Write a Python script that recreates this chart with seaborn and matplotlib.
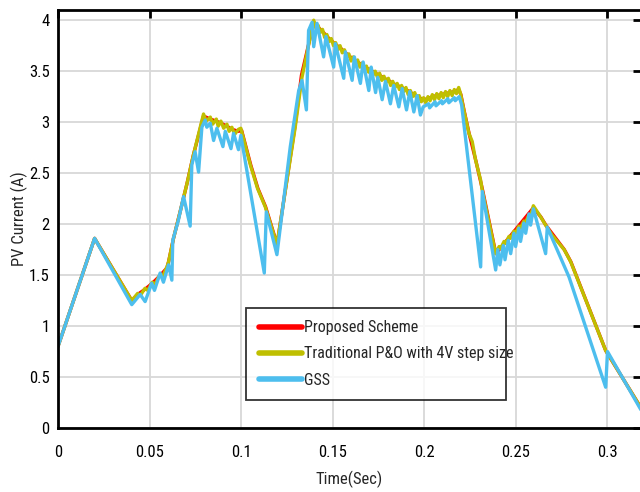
import numpy as np
import pandas as pd
import matplotlib
matplotlib.use("Agg")
import matplotlib.pyplot as plt
import seaborn as sns

# ---------------- data ----------------
series_names = ["Proposed Scheme", "Traditional P&O with 4V step size", "GSS"]

t_proposed = [0, 0.02, 0.0403, 0.0435, 0.0475, 0.0515, 0.0555, 0.0595, 0.0604,
              0.0631, 0.0667, 0.0705, 0.0740, 0.0795,
              0.0832, 0.0865, 0.0890, 0.0923, 0.0950, 0.0986, 0.1003, 0.1053,
              0.1092, 0.1134, 0.1197, 0.1294, 0.1330, 0.1397,
              0.1421, 0.1445, 0.1469, 0.1493, 0.1517, 0.1541, 0.1565, 0.1589,
              0.1613, 0.1637, 0.1661, 0.1685, 0.1709, 0.1733, 0.1757, 0.1781,
              0.1805, 0.1829, 0.1853, 0.1877, 0.1901, 0.1925, 0.1949, 0.1973,
              0.1997, 0.2021, 0.2045, 0.2069, 0.2093, 0.2117, 0.2141, 0.2165,
              0.2189, 0.2201, 0.2219, 0.2247, 0.2283, 0.2320, 0.2392, 0.2597,
              0.2638, 0.2665, 0.2766, 0.2802, 0.2992, 0.3184]
y_proposed = [0.80, 1.86, 1.25, 1.31, 1.36, 1.42, 1.49, 1.57, 1.63,
              1.86, 2.12, 2.40, 2.68, 3.06,
              3.03, 3.01, 2.99, 2.96, 2.93, 2.91, 2.92, 2.58,
              2.35, 2.17, 1.80, 2.95, 3.46, 3.98,
              3.93, 3.89, 3.84, 3.80, 3.76, 3.73, 3.69, 3.65,
              3.62, 3.59, 3.56, 3.53, 3.51, 3.48, 3.46, 3.43,
              3.41, 3.38, 3.36, 3.34, 3.32, 3.29, 3.27, 3.24,
              3.22, 3.23, 3.25, 3.26, 3.27, 3.28, 3.29, 3.30,
              3.32, 3.27, 3.11, 2.88, 2.62, 2.33, 1.71, 2.16,
              2.07, 1.99, 1.75, 1.63, 0.76, 0.20]

t_po = [0, 0.02, 0.0403, 0.0435, 0.0450, 0.0475, 0.0490, 0.0515, 0.0530, 0.0555,
        0.0570, 0.0595, 0.0604, 0.0631, 0.0667, 0.0705, 0.0740, 0.0795,
        0.0810, 0.0832, 0.0845, 0.0865, 0.0875, 0.0890, 0.0905, 0.0923,
        0.0935, 0.0950, 0.0965, 0.0986, 0.0999, 0.1051, 0.1090, 0.1132, 0.1196,
        0.1296, 0.1333,
        0.1397, 0.1409, 0.1421, 0.1433, 0.1445, 0.1457, 0.1469, 0.1481,
        0.1493, 0.1505, 0.1517, 0.1529, 0.1541, 0.1553, 0.1565, 0.1577,
        0.1589, 0.1601, 0.1613, 0.1625, 0.1637, 0.1649, 0.1661, 0.1673,
        0.1685, 0.1697, 0.1709, 0.1721, 0.1733, 0.1745, 0.1757, 0.1769,
        0.1781, 0.1793, 0.1805, 0.1817, 0.1829, 0.1841, 0.1853, 0.1865,
        0.1877, 0.1889, 0.1901, 0.1913, 0.1925, 0.1937, 0.1949, 0.1961,
        0.1973, 0.1985, 0.1997, 0.2009, 0.2021, 0.2033, 0.2045, 0.2057,
        0.2069, 0.2081, 0.2093, 0.2105, 0.2117, 0.2129, 0.2141, 0.2153,
        0.2165, 0.2177, 0.2189,
        0.2199, 0.2217, 0.2245, 0.2263, 0.2281, 0.2309, 0.2318, 0.2391,
        0.2410, 0.2418, 0.2437, 0.2445, 0.2464, 0.2472, 0.2491, 0.2499,
        0.2518, 0.2526, 0.2545, 0.2553, 0.2572, 0.2580, 0.2597, 0.2637,
        0.2664, 0.2700, 0.2710, 0.2765, 0.2801, 0.2992, 0.3184]
y_po = [0.80, 1.86, 1.25, 1.32, 1.30, 1.37, 1.35, 1.43, 1.41, 1.50,
        1.48, 1.58, 1.63, 1.86, 2.12, 2.40, 2.68, 3.08,
        3.01, 3.05, 2.98, 3.03, 2.96, 3.01, 2.94, 2.98,
        2.91, 2.95, 2.88, 2.93, 2.94, 2.58, 2.35, 2.17, 1.80,
        2.95, 3.44,
        4.00, 3.92, 3.95, 3.88, 3.91, 3.83, 3.86, 3.79,
        3.82, 3.75, 3.78, 3.71, 3.75, 3.68, 3.71, 3.64,
        3.67, 3.60, 3.64, 3.57, 3.61, 3.54, 3.58, 3.51,
        3.55, 3.49, 3.53, 3.46, 3.50, 3.44, 3.48, 3.41,
        3.45, 3.39, 3.43, 3.36, 3.40, 3.34, 3.38, 3.32,
        3.36, 3.30, 3.34, 3.27, 3.31, 3.25, 3.29, 3.22,
        3.26, 3.20, 3.24, 3.19, 3.25, 3.21, 3.27, 3.22,
        3.28, 3.23, 3.29, 3.24, 3.30, 3.25, 3.31, 3.26,
        3.32, 3.28, 3.34,
        3.28, 3.12, 2.89, 2.81, 2.63, 2.43, 2.33, 1.71,
        1.78, 1.76, 1.83, 1.81, 1.88, 1.86, 1.93, 1.91,
        1.98, 1.96, 2.03, 2.01, 2.09, 2.07, 2.18, 2.07,
        1.99, 1.89, 1.87, 1.75, 1.63, 0.76, 0.20]

t_gss = [0, 0.02, 0.0403, 0.0449, 0.0476, 0.0512, 0.0527, 0.0558, 0.0576, 0.0604,
         0.0622, 0.0627, 0.0658, 0.0686, 0.0722, 0.0731, 0.0749, 0.0768, 0.0786,
         0.0804, 0.0813, 0.0832, 0.0850, 0.0868, 0.0901, 0.0914, 0.0945, 0.0959,
         0.0986, 0.0999, 0.1127, 0.1138, 0.1196, 0.1269, 0.1315, 0.1333, 0.1357,
         0.1369, 0.1388, 0.1397, 0.1415, 0.1451, 0.1464, 0.1506, 0.1515, 0.1561,
         0.1570, 0.1607, 0.1619, 0.1652, 0.1667, 0.1698, 0.1711, 0.1735, 0.1747,
         0.1771, 0.1789, 0.1816, 0.1834, 0.1862, 0.1880, 0.1904, 0.1922, 0.1944,
         0.1962, 0.1980, 0.1995, 0.2025, 0.2030, 0.2060, 0.2065, 0.2095, 0.2100,
         0.2130, 0.2135, 0.2165, 0.2170, 0.2192, 0.2205, 0.2309, 0.2318, 0.2391,
         0.2403, 0.2414, 0.2433, 0.2442, 0.2460, 0.2473, 0.2491, 0.2500, 0.2518,
         0.2527, 0.2545, 0.2555, 0.2573, 0.2582, 0.2597, 0.2664, 0.2673, 0.2792,
         0.2992, 0.3002, 0.3184]
y_gss = [0.80, 1.86, 1.21, 1.31, 1.24, 1.42, 1.35, 1.52, 1.43, 1.60,
         1.45, 1.84, 2.04, 2.27, 1.98, 2.58, 2.71, 2.51, 2.95,
         3.02, 2.95, 2.99, 2.82, 2.94, 2.76, 2.91, 2.74, 2.89,
         2.73, 2.87, 1.52, 2.12, 1.70, 2.76, 3.31, 3.41, 3.12,
         3.90, 3.98, 3.74, 3.97, 3.64, 3.84, 3.54, 3.77, 3.43,
         3.69, 3.41, 3.64, 3.38, 3.59, 3.31, 3.54, 3.29, 3.44,
         3.22, 3.40, 3.18, 3.36, 3.15, 3.33, 3.12, 3.30, 3.10,
         3.26, 3.07, 3.15, 3.18, 3.14, 3.20, 3.16, 3.21, 3.18,
         3.23, 3.19, 3.24, 3.21, 3.25, 3.17, 1.58, 2.32, 1.55,
         1.75, 1.60, 1.79, 1.65, 1.84, 1.71, 1.91, 1.78, 1.96,
         1.83, 2.01, 1.91, 2.10, 1.99, 2.15, 1.71, 1.97, 1.48,
         0.40, 0.75, 0.18]

x_ticks = [0, 0.05, 0.1, 0.15, 0.2, 0.25, 0.3]
x_tick_labels = ["0", "0.05", "0.1", "0.15", "0.2", "0.25", "0.3"]
y_ticks = [0, 0.5, 1, 1.5, 2, 2.5, 3, 3.5, 4]
y_tick_labels = ["0", "0.5", "1", "1.5", "2", "2.5", "3", "3.5", "4"]

# ---------------- style ----------------
sns.set_style("white")
plt.rcParams["font.family"] = ["Roboto Condensed", "Archivo Narrow", "Liberation Sans", "DejaVu Sans"]
FS = 12
FS_LEG = 11.5

colors = ["#FF0000", "#BFBF00", "#4DBEEE"]

fig = plt.figure(figsize=(6.4, 4.92), dpi=100)
ax = fig.add_axes([58 / 640, (492 - 428) / 492, 583 / 640, 418 / 492])

for name, tt, yy, c in zip(series_names,
                           [t_proposed, t_po, t_gss],
                           [y_proposed, y_po, y_gss], colors):
    df = pd.DataFrame({"t": tt, "y": yy})
    sns.lineplot(data=df, x="t", y="y", ax=ax, color=c, lw=2.4,
                 sort=False, estimator=None, label=name)

ax.set_xlim(0, 0.3185)
ax.set_ylim(0, 4.1)
ax.set_xticks(x_ticks)
ax.set_xticklabels(x_tick_labels)
ax.set_yticks(y_ticks)
ax.set_yticklabels(y_tick_labels)
ax.grid(True, color="#d8d8d8", lw=1.3)
ax.set_axisbelow(True)
for s in ax.spines.values():
    s.set_visible(True)
    s.set_color("black")
    s.set_linewidth(2)
ax.tick_params(direction="in", length=6, width=2, top=True, right=True,
               labelsize=FS, colors="black")
ax.tick_params(axis="x", pad=12)
ax.tick_params(axis="y", pad=6)
ax.set_xlabel("Time(Sec)", fontsize=FS, labelpad=8)
ax.set_ylabel("PV Current (A)", fontsize=FS, labelpad=1)

leg = ax.legend(loc="lower left", bbox_to_anchor=(0.323, 0.067, 0.445, 0.22),
                mode="expand", fontsize=FS_LEG, frameon=True, fancybox=False,
                handlelength=2.7, handletextpad=0.15, labelspacing=0.7,
                borderpad=0.78, borderaxespad=0)
leg.get_frame().set_edgecolor("black")
leg.get_frame().set_linewidth(1.3)
for h in leg.get_lines():
    h.set_linewidth(4)

fig.savefig("out.png", dpi=100)
